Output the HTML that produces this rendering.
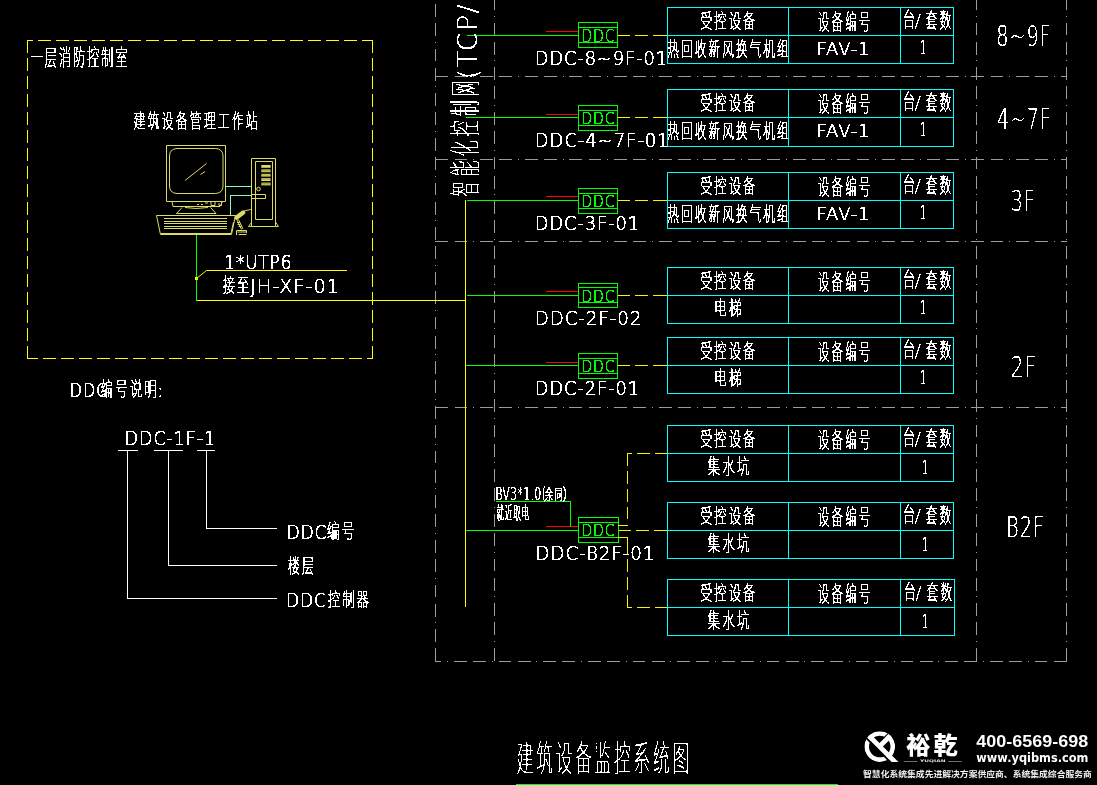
<!DOCTYPE html>
<html lang="zh-CN">
<head>
<meta charset="utf-8">
<title>建筑设备监控系统图</title>
<style>
html,body{margin:0;padding:0;background:#000;}
body{width:1097px;height:785px;overflow:hidden;}
svg{display:block;}
svg text{white-space:pre;}
.cad text{vector-effect:non-scaling-stroke;}
</style>
</head>
<body>
<svg width="1097" height="785" viewBox="0 0 1097 785" shape-rendering="crispEdges">
<rect width="1097" height="785" fill="#000"/>
<g fill="none" stroke-width="1">
<path d="M435.5 4V662" stroke="#9c9c9c" stroke-dasharray="12.762 6.381 12.762 5.881 1 5.881" stroke-dashoffset="0"/>
<path d="M494.5 0V662" stroke="#9c9c9c" stroke-dasharray="12.762 6.381 12.762 5.881 1 5.881" stroke-dashoffset="22"/>
<path d="M976.5 0V662" stroke="#9c9c9c" stroke-dasharray="12.762 6.381 12.762 5.881 1 5.881" stroke-dashoffset="22"/>
<path d="M1066.5 0V662" stroke="#9c9c9c" stroke-dasharray="12.762 6.381 12.762 5.881 1 5.881" stroke-dashoffset="22"/>
<path d="M435 76.5H1067" stroke="#9c9c9c" stroke-dasharray="12.762 6.381 12.762 5.881 1 5.881" stroke-dashoffset="44.26"/>
<path d="M435 159.5H1067" stroke="#9c9c9c" stroke-dasharray="12.762 6.381 12.762 5.881 1 5.881" stroke-dashoffset="44.26"/>
<path d="M435 241.5H1067" stroke="#9c9c9c" stroke-dasharray="12.762 6.381 12.762 5.881 1 5.881" stroke-dashoffset="44.26"/>
<path d="M435 407.5H1067" stroke="#9c9c9c" stroke-dasharray="12.762 6.381 12.762 5.881 1 5.881" stroke-dashoffset="44.26"/>
<path d="M435 661.5H1067" stroke="#9c9c9c" stroke-dasharray="12.762 6.381 12.762 5.881 1 5.881" stroke-dashoffset="25.69"/>
<path d="M27 40.5H373" stroke="#ffff00" stroke-dasharray="13 5" stroke-dashoffset="7"/>
<path d="M373 358.5H27" stroke="#ffff00" stroke-dasharray="13 5" stroke-dashoffset="7"/>
<path d="M27.5 40V359" stroke="#ffff00" stroke-dasharray="13 5"/>
<path d="M372.5 40V359" stroke="#ffff00" stroke-dasharray="13 5"/>
<path d="M465.5 200V607" stroke="#ffff00" />
<path d="M196 300.5H466" stroke="#ffff00" />
<path d="M196.5 234V301" stroke="#00ff00" />
<path d="M347 270.5H206.5L196.5 278.5" stroke="#ffff00" shape-rendering="geometricPrecision"/>
<rect x="195" y="277" width="3" height="3" fill="#ffff00"/>
<path d="M467 35.5H578" stroke="#00ff00" />
<path d="M546 31.5H578" stroke="#ff0000" />
<rect x="578.5" y="22.5" width="39" height="25" stroke="#00ff00"/>
<path d="M578 27.5H617" stroke="#00ff00" />
<path d="M578 42.5H617" stroke="#00ff00" />
<path d="M618 35.5H667" stroke="#fff000" stroke-dasharray="12 5 13 5 14 0"/>
<path d="M466 117.5H578" stroke="#00ff00" />
<path d="M546 114.5H578" stroke="#ff0000" />
<rect x="578.5" y="105.5" width="39" height="25" stroke="#00ff00"/>
<path d="M578 110.5H617" stroke="#00ff00" />
<path d="M578 125.5H617" stroke="#00ff00" />
<path d="M618 117.5H667" stroke="#fff000" stroke-dasharray="12 5 13 5 14 0"/>
<path d="M467 200.5H578" stroke="#00ff00" />
<path d="M546 196.5H578" stroke="#ff0000" />
<rect x="578.5" y="188.5" width="39" height="25" stroke="#00ff00"/>
<path d="M578 193.5H617" stroke="#00ff00" />
<path d="M578 208.5H617" stroke="#00ff00" />
<path d="M618 200.5H667" stroke="#fff000" stroke-dasharray="12 5 13 5 14 0"/>
<path d="M467 295.5H578" stroke="#00ff00" />
<path d="M546 291.5H578" stroke="#ff0000" />
<rect x="578.5" y="283.5" width="39" height="24" stroke="#00ff00"/>
<path d="M578 287.5H617" stroke="#00ff00" />
<path d="M578 302.5H617" stroke="#00ff00" />
<path d="M618 295.5H667" stroke="#fff000" stroke-dasharray="12 5 13 5 14 0"/>
<path d="M466 365.5H578" stroke="#00ff00" />
<path d="M546 362.5H578" stroke="#ff0000" />
<rect x="578.5" y="353.5" width="39" height="25" stroke="#00ff00"/>
<path d="M578 358.5H617" stroke="#00ff00" />
<path d="M578 373.5H617" stroke="#00ff00" />
<path d="M618 365.5H667" stroke="#fff000" stroke-dasharray="12 5 13 5 14 0"/>
<path d="M466 530.5H578" stroke="#00ff00" />
<path d="M546 526.5H578" stroke="#ff0000" />
<rect x="578.5" y="517.5" width="40" height="25" stroke="#00ff00"/>
<path d="M578 522.5H618" stroke="#00ff00" />
<path d="M578 537.5H618" stroke="#00ff00" />
<path d="M619 530.5H667" stroke="#fff000" stroke-dasharray="12 5 13 5 13 0"/>
<path d="M618 525.5H628" stroke="#fff000" />
<path d="M618 537.5H628" stroke="#fff000" />
<path d="M627.5 453V519" stroke="#fff000" stroke-dasharray="12.5 5.5 13 5 13 5 12 0"/>
<path d="M627 453.5H667" stroke="#fff000" stroke-dasharray="5 5 13 5 12 0"/>
<path d="M627.5 537V608" stroke="#fff000" stroke-dasharray="17 5 13 5 13 5 13 0"/>
<path d="M627 607.5H667" stroke="#fff000" stroke-dasharray="5 5 13 5 12 0"/>
<path d="M496 501.5H571" stroke="#00ff00" />
<path d="M570.5 501V527" stroke="#00ff00" />
<path d="M667.5 7.5H953.5V63.5H667.5ZM667 35.5H953.5M788.5 7.5V63.5M900.5 7.5V63.5" stroke="#00ffff"/>
<path d="M667.5 89.5H953.5V146.5H667.5ZM667 117.5H953.5M788.5 89.5V146.5M900.5 89.5V146.5" stroke="#00ffff"/>
<path d="M667.5 172.5H953.5V228.5H667.5ZM667 200.5H953.5M788.5 172.5V228.5M900.5 172.5V228.5" stroke="#00ffff"/>
<path d="M667.5 267.5H953.5V323.5H667.5ZM667 295.5H953.5M788.5 267.5V323.5M900.5 267.5V323.5" stroke="#00ffff"/>
<path d="M667.5 337.5H953.5V393.5H667.5ZM667 365.5H953.5M788.5 337.5V393.5M900.5 337.5V393.5" stroke="#00ffff"/>
<path d="M667.5 425.5H953.5V481.5H667.5ZM667 453.5H953.5M788.5 425.5V481.5M900.5 425.5V481.5" stroke="#00ffff"/>
<path d="M667.5 502.5H953.5V558.5H667.5ZM667 530.5H953.5M788.5 502.5V558.5M900.5 502.5V558.5" stroke="#00ffff"/>
<path d="M667.5 579.5H954.5V635.5H667.5ZM667 607.5H954.5M788.5 579.5V635.5M900.5 579.5V635.5" stroke="#00ffff"/>
<path d="M118 450.5H138" stroke="#ffffff" />
<path d="M154 450.5H183" stroke="#ffffff" />
<path d="M197 450.5H215" stroke="#ffffff" />
<path d="M127.5 450V598.5H277" stroke="#ffffff" />
<path d="M168.5 450V565.5H277" stroke="#ffffff" />
<path d="M206.5 450V528.5H277" stroke="#ffffff" />
<path d="M516 784.5H837.5" stroke="#00ff00" />
<path d="M166.5 145.5H225.5V201.5H166.5ZM177 148.5H215.5Q223 149 223 156V186Q223 193 215.5 193.5H177Q169.5 193 169.5 186V156Q169.5 149 177 148.5ZM185 180.5L206.5 163.5M200.5 174.5L205 171.5M172 201.5L173 206.5H220L222.5 201.5M197 204.5H199M201 204.5H203M205 203H208M211 201.5V205.5H215V201.5M219 203V205.5H221.5V202M182 207.5L176.5 213.5H216L210.5 207.5M185 207.5Q196 209.5 208 207.5M156.5 215.5H235.5L231.5 234.5H160.5ZM164 218.5H227M164 221.5H227M164 223.5H227M164 226.5H227M164 228.5H227M161 233.5H231M233.5 222L231 233.5M251.5 158.5H275.5V226.5H251.5ZM255.5 161.5H272.5V219.5H255.5ZM261.3 165.5H270.6M261.3 166.5H270.6M261.3 167.3H270.6M261.3 169.9H270.6M261.3 170.9H270.6M261.3 171.7H270.6M261.3 174.3H270.6M261.3 175.3H270.6M261.3 176.1H270.6M261.3 178.7H270.6M261.3 179.7H270.6M261.3 180.5H270.6M261.3 183.1H270.6M261.3 184.1H270.6M261.3 184.9H270.6M252 194.5H265.5V198.5H252M251.5 222.5L248.5 226.5H251.5M275.5 222L278.5 226.5H275.5M244.5 210.8L250.5 209.6L251.5 208.5M236.5 219L241.5 229.5M238.5 219.5L243 229M236.5 230.5H246.5V233M236.5 230.5V235M238.5 234.5H246.5M237.5 232H246M237 222.5H240M237.5 224.5H240.5M238.5 226.5H241.5" stroke="#dcdc64" shape-rendering="geometricPrecision"/>
<circle cx="258.5" cy="189" r="1.8" stroke="#dcdc64" shape-rendering="geometricPrecision"/>
<path d="M236.6 217.4L243.2 212.5" stroke="#dcdc64" stroke-width="4.4" stroke-linecap="round" shape-rendering="geometricPrecision"/>
<path d="M225.5 186.5H251.5M230.5 215V195.5H252" stroke="#7fffbf" />
<defs><clipPath id="lc"><circle cx="879.75" cy="746.55" r="15.35"/><rect x="886" y="752" width="16" height="9.9"/></clipPath></defs>
<g shape-rendering="geometricPrecision" stroke="none" fill="#ffffff"><g clip-path="url(#lc)" fill="none"><circle cx="879.75" cy="746.55" r="13.05" stroke="#fff" stroke-width="4.6"/><path d="M860.41 732.03L898.02 769.64" stroke="#000" stroke-width="1.9"/><path d="M895.04 726.72L877.88 743.88" stroke="#000" stroke-width="1.2"/><path d="M862.74 729.69L900.36 767.31M897.16 728.84L880.00 746.00" stroke="#fff" stroke-width="4.8"/></g><rect x="903.7" y="761" width="13.7" height="0.6" fill="#bbb"/><rect x="948" y="761" width="13.7" height="0.6" fill="#bbb"/></g>
</g>
<defs><filter id="al" x="0" y="0" width="1097" height="785" filterUnits="userSpaceOnUse" color-interpolation-filters="sRGB"><feComponentTransfer><feFuncA type="discrete" tableValues="0 0 0 1 1 1 1"/></feComponentTransfer></filter></defs>
<g class="cad" font-size="100" filter="url(#al)" stroke-width="0.55">
<text transform="matrix(0.1426 0 0 0.1678 581.36 41.53)" font-family='"DejaVu Sans", "Liberation Sans", sans-serif' font-weight="200" fill="#00ff00" stroke="#00ff00" stroke-width="0.35" letter-spacing="5">DDC</text>
<text transform="matrix(0.1426 0 0 0.1568 581.36 123.83)" font-family='"DejaVu Sans", "Liberation Sans", sans-serif' font-weight="200" fill="#00ff00" stroke="#00ff00" stroke-width="0.35" letter-spacing="5">DDC</text>
<text transform="matrix(0.1426 0 0 0.1568 581.36 206.82)" font-family='"DejaVu Sans", "Liberation Sans", sans-serif' font-weight="200" fill="#00ff00" stroke="#00ff00" stroke-width="0.35" letter-spacing="5">DDC</text>
<text transform="matrix(0.1426 0 0 0.1568 581.36 301.82)" font-family='"DejaVu Sans", "Liberation Sans", sans-serif' font-weight="200" fill="#00ff00" stroke="#00ff00" stroke-width="0.35" letter-spacing="5">DDC</text>
<text transform="matrix(0.1426 0 0 0.1568 581.36 371.82)" font-family='"DejaVu Sans", "Liberation Sans", sans-serif' font-weight="200" fill="#00ff00" stroke="#00ff00" stroke-width="0.35" letter-spacing="5">DDC</text>
<text transform="matrix(0.1426 0 0 0.1637 581.36 536.12)" font-family='"DejaVu Sans", "Liberation Sans", sans-serif' font-weight="200" fill="#00ff00" stroke="#00ff00" stroke-width="0.35" letter-spacing="5">DDC</text>
<text transform="matrix(0.1221 0 0 0.1940 699.92 28.27)" font-family='"Noto Sans CJK SC", "Liberation Sans", sans-serif' font-weight="100" fill="#ffffff" stroke="#ffffff" letter-spacing="18">受控设备</text>
<text transform="matrix(0.1164 0 0 0.2092 817.69 28.55)" font-family='"Noto Sans CJK SC", "Liberation Sans", sans-serif' font-weight="100" fill="#ffffff" stroke="#ffffff" letter-spacing="18">设备编号</text>
<text transform="matrix(0.1231 0 0 0.2017 902.82 27.01)" font-family='"Noto Sans CJK SC", "Liberation Sans", sans-serif' font-weight="100" fill="#ffffff" stroke="#ffffff" >台</text>
<text transform="matrix(0.1276 0 0 0.1495 915.35 25.93)" font-family='"Noto Sans CJK SC", "Liberation Sans", sans-serif' font-weight="100" fill="#ffffff" stroke="#ffffff" >/</text>
<text transform="matrix(0.1194 0 0 0.2049 925.48 28.19)" font-family='"Noto Sans CJK SC", "Liberation Sans", sans-serif' font-weight="100" fill="#ffffff" stroke="#ffffff" letter-spacing="18">套数</text>
<text transform="matrix(0.1165 0 0 0.1973 667.19 55.65)" font-family='"Noto Sans CJK SC", "Liberation Sans", sans-serif' font-weight="100" fill="#ffffff" stroke="#ffffff" letter-spacing="18">热回收新风换气机组</text>
<text transform="matrix(0.1816 0 0 0.1829 816.40 55.43)" font-family='"DejaVu Sans", "Liberation Sans", sans-serif' font-weight="200" fill="#ffffff" stroke="#ffffff" stroke-width="0.35" letter-spacing="5">FAV-1</text>
<text transform="matrix(0.0963 0 0 0.1925 920.12 54.12)" font-family='"DejaVu Sans", "Liberation Sans", sans-serif' font-weight="200" fill="#ffffff" stroke="#ffffff" stroke-width="0.35" >1</text>
<text transform="matrix(0.1221 0 0 0.1940 699.92 110.27)" font-family='"Noto Sans CJK SC", "Liberation Sans", sans-serif' font-weight="100" fill="#ffffff" stroke="#ffffff" letter-spacing="18">受控设备</text>
<text transform="matrix(0.1164 0 0 0.2092 817.69 110.55)" font-family='"Noto Sans CJK SC", "Liberation Sans", sans-serif' font-weight="100" fill="#ffffff" stroke="#ffffff" letter-spacing="18">设备编号</text>
<text transform="matrix(0.1231 0 0 0.2017 902.82 109.01)" font-family='"Noto Sans CJK SC", "Liberation Sans", sans-serif' font-weight="100" fill="#ffffff" stroke="#ffffff" >台</text>
<text transform="matrix(0.1276 0 0 0.1495 915.35 107.93)" font-family='"Noto Sans CJK SC", "Liberation Sans", sans-serif' font-weight="100" fill="#ffffff" stroke="#ffffff" >/</text>
<text transform="matrix(0.1194 0 0 0.2049 925.48 110.19)" font-family='"Noto Sans CJK SC", "Liberation Sans", sans-serif' font-weight="100" fill="#ffffff" stroke="#ffffff" letter-spacing="18">套数</text>
<text transform="matrix(0.1165 0 0 0.1973 667.19 137.65)" font-family='"Noto Sans CJK SC", "Liberation Sans", sans-serif' font-weight="100" fill="#ffffff" stroke="#ffffff" letter-spacing="18">热回收新风换气机组</text>
<text transform="matrix(0.1816 0 0 0.1829 816.40 137.42)" font-family='"DejaVu Sans", "Liberation Sans", sans-serif' font-weight="200" fill="#ffffff" stroke="#ffffff" stroke-width="0.35" letter-spacing="5">FAV-1</text>
<text transform="matrix(0.0963 0 0 0.1925 920.12 136.12)" font-family='"DejaVu Sans", "Liberation Sans", sans-serif' font-weight="200" fill="#ffffff" stroke="#ffffff" stroke-width="0.35" >1</text>
<text transform="matrix(0.1221 0 0 0.1940 699.92 193.27)" font-family='"Noto Sans CJK SC", "Liberation Sans", sans-serif' font-weight="100" fill="#ffffff" stroke="#ffffff" letter-spacing="18">受控设备</text>
<text transform="matrix(0.1164 0 0 0.2092 817.69 193.55)" font-family='"Noto Sans CJK SC", "Liberation Sans", sans-serif' font-weight="100" fill="#ffffff" stroke="#ffffff" letter-spacing="18">设备编号</text>
<text transform="matrix(0.1231 0 0 0.2017 902.82 192.01)" font-family='"Noto Sans CJK SC", "Liberation Sans", sans-serif' font-weight="100" fill="#ffffff" stroke="#ffffff" >台</text>
<text transform="matrix(0.1276 0 0 0.1495 915.35 190.93)" font-family='"Noto Sans CJK SC", "Liberation Sans", sans-serif' font-weight="100" fill="#ffffff" stroke="#ffffff" >/</text>
<text transform="matrix(0.1194 0 0 0.2049 925.48 193.19)" font-family='"Noto Sans CJK SC", "Liberation Sans", sans-serif' font-weight="100" fill="#ffffff" stroke="#ffffff" letter-spacing="18">套数</text>
<text transform="matrix(0.1165 0 0 0.1973 667.19 220.65)" font-family='"Noto Sans CJK SC", "Liberation Sans", sans-serif' font-weight="100" fill="#ffffff" stroke="#ffffff" letter-spacing="18">热回收新风换气机组</text>
<text transform="matrix(0.1816 0 0 0.1829 816.40 220.42)" font-family='"DejaVu Sans", "Liberation Sans", sans-serif' font-weight="200" fill="#ffffff" stroke="#ffffff" stroke-width="0.35" letter-spacing="5">FAV-1</text>
<text transform="matrix(0.0963 0 0 0.1925 920.12 219.12)" font-family='"DejaVu Sans", "Liberation Sans", sans-serif' font-weight="200" fill="#ffffff" stroke="#ffffff" stroke-width="0.35" >1</text>
<text transform="matrix(0.1221 0 0 0.1940 699.92 288.27)" font-family='"Noto Sans CJK SC", "Liberation Sans", sans-serif' font-weight="100" fill="#ffffff" stroke="#ffffff" letter-spacing="18">受控设备</text>
<text transform="matrix(0.1164 0 0 0.2092 817.69 288.55)" font-family='"Noto Sans CJK SC", "Liberation Sans", sans-serif' font-weight="100" fill="#ffffff" stroke="#ffffff" letter-spacing="18">设备编号</text>
<text transform="matrix(0.1231 0 0 0.2017 902.82 287.01)" font-family='"Noto Sans CJK SC", "Liberation Sans", sans-serif' font-weight="100" fill="#ffffff" stroke="#ffffff" >台</text>
<text transform="matrix(0.1276 0 0 0.1495 915.35 285.93)" font-family='"Noto Sans CJK SC", "Liberation Sans", sans-serif' font-weight="100" fill="#ffffff" stroke="#ffffff" >/</text>
<text transform="matrix(0.1194 0 0 0.2049 925.48 288.19)" font-family='"Noto Sans CJK SC", "Liberation Sans", sans-serif' font-weight="100" fill="#ffffff" stroke="#ffffff" letter-spacing="18">套数</text>
<text transform="matrix(0.1265 0 0 0.1984 714.10 315.44)" font-family='"Noto Sans CJK SC", "Liberation Sans", sans-serif' font-weight="100" fill="#ffffff" stroke="#ffffff" letter-spacing="18">电梯</text>
<text transform="matrix(0.0963 0 0 0.1925 920.12 314.12)" font-family='"DejaVu Sans", "Liberation Sans", sans-serif' font-weight="200" fill="#ffffff" stroke="#ffffff" stroke-width="0.35" >1</text>
<text transform="matrix(0.1221 0 0 0.1940 699.92 358.27)" font-family='"Noto Sans CJK SC", "Liberation Sans", sans-serif' font-weight="100" fill="#ffffff" stroke="#ffffff" letter-spacing="18">受控设备</text>
<text transform="matrix(0.1164 0 0 0.2092 817.69 358.55)" font-family='"Noto Sans CJK SC", "Liberation Sans", sans-serif' font-weight="100" fill="#ffffff" stroke="#ffffff" letter-spacing="18">设备编号</text>
<text transform="matrix(0.1231 0 0 0.2017 902.82 357.01)" font-family='"Noto Sans CJK SC", "Liberation Sans", sans-serif' font-weight="100" fill="#ffffff" stroke="#ffffff" >台</text>
<text transform="matrix(0.1276 0 0 0.1495 915.35 355.93)" font-family='"Noto Sans CJK SC", "Liberation Sans", sans-serif' font-weight="100" fill="#ffffff" stroke="#ffffff" >/</text>
<text transform="matrix(0.1194 0 0 0.2049 925.48 358.19)" font-family='"Noto Sans CJK SC", "Liberation Sans", sans-serif' font-weight="100" fill="#ffffff" stroke="#ffffff" letter-spacing="18">套数</text>
<text transform="matrix(0.1265 0 0 0.1984 714.10 385.44)" font-family='"Noto Sans CJK SC", "Liberation Sans", sans-serif' font-weight="100" fill="#ffffff" stroke="#ffffff" letter-spacing="18">电梯</text>
<text transform="matrix(0.0963 0 0 0.1925 920.12 384.12)" font-family='"DejaVu Sans", "Liberation Sans", sans-serif' font-weight="200" fill="#ffffff" stroke="#ffffff" stroke-width="0.35" >1</text>
<text transform="matrix(0.1221 0 0 0.1940 699.92 446.27)" font-family='"Noto Sans CJK SC", "Liberation Sans", sans-serif' font-weight="100" fill="#ffffff" stroke="#ffffff" letter-spacing="18">受控设备</text>
<text transform="matrix(0.1164 0 0 0.2092 817.69 446.55)" font-family='"Noto Sans CJK SC", "Liberation Sans", sans-serif' font-weight="100" fill="#ffffff" stroke="#ffffff" letter-spacing="18">设备编号</text>
<text transform="matrix(0.1231 0 0 0.2017 902.82 445.01)" font-family='"Noto Sans CJK SC", "Liberation Sans", sans-serif' font-weight="100" fill="#ffffff" stroke="#ffffff" >台</text>
<text transform="matrix(0.1276 0 0 0.1495 915.35 443.93)" font-family='"Noto Sans CJK SC", "Liberation Sans", sans-serif' font-weight="100" fill="#ffffff" stroke="#ffffff" >/</text>
<text transform="matrix(0.1194 0 0 0.2049 925.48 446.19)" font-family='"Noto Sans CJK SC", "Liberation Sans", sans-serif' font-weight="100" fill="#ffffff" stroke="#ffffff" letter-spacing="18">套数</text>
<text transform="matrix(0.1243 0 0 0.2038 707.58 473.89)" font-family='"Noto Sans CJK SC", "Liberation Sans", sans-serif' font-weight="100" fill="#ffffff" stroke="#ffffff" letter-spacing="18">集水坑</text>
<text transform="matrix(0.0890 0 0 0.1870 922.30 473.82)" font-family='"DejaVu Sans", "Liberation Sans", sans-serif' font-weight="200" fill="#ffffff" stroke="#ffffff" stroke-width="0.35" >1</text>
<text transform="matrix(0.1221 0 0 0.1940 699.92 523.27)" font-family='"Noto Sans CJK SC", "Liberation Sans", sans-serif' font-weight="100" fill="#ffffff" stroke="#ffffff" letter-spacing="18">受控设备</text>
<text transform="matrix(0.1164 0 0 0.2092 817.69 523.55)" font-family='"Noto Sans CJK SC", "Liberation Sans", sans-serif' font-weight="100" fill="#ffffff" stroke="#ffffff" letter-spacing="18">设备编号</text>
<text transform="matrix(0.1231 0 0 0.2017 902.82 522.01)" font-family='"Noto Sans CJK SC", "Liberation Sans", sans-serif' font-weight="100" fill="#ffffff" stroke="#ffffff" >台</text>
<text transform="matrix(0.1276 0 0 0.1495 915.35 520.93)" font-family='"Noto Sans CJK SC", "Liberation Sans", sans-serif' font-weight="100" fill="#ffffff" stroke="#ffffff" >/</text>
<text transform="matrix(0.1194 0 0 0.2049 925.48 523.19)" font-family='"Noto Sans CJK SC", "Liberation Sans", sans-serif' font-weight="100" fill="#ffffff" stroke="#ffffff" letter-spacing="18">套数</text>
<text transform="matrix(0.1243 0 0 0.2038 707.58 550.89)" font-family='"Noto Sans CJK SC", "Liberation Sans", sans-serif' font-weight="100" fill="#ffffff" stroke="#ffffff" letter-spacing="18">集水坑</text>
<text transform="matrix(0.0890 0 0 0.1870 922.30 550.83)" font-family='"DejaVu Sans", "Liberation Sans", sans-serif' font-weight="200" fill="#ffffff" stroke="#ffffff" stroke-width="0.35" >1</text>
<text transform="matrix(0.1221 0 0 0.1940 699.92 600.27)" font-family='"Noto Sans CJK SC", "Liberation Sans", sans-serif' font-weight="100" fill="#ffffff" stroke="#ffffff" letter-spacing="18">受控设备</text>
<text transform="matrix(0.1164 0 0 0.2092 817.69 600.55)" font-family='"Noto Sans CJK SC", "Liberation Sans", sans-serif' font-weight="100" fill="#ffffff" stroke="#ffffff" letter-spacing="18">设备编号</text>
<text transform="matrix(0.1231 0 0 0.2017 903.52 599.01)" font-family='"Noto Sans CJK SC", "Liberation Sans", sans-serif' font-weight="100" fill="#ffffff" stroke="#ffffff" >台</text>
<text transform="matrix(0.1276 0 0 0.1495 916.05 597.93)" font-family='"Noto Sans CJK SC", "Liberation Sans", sans-serif' font-weight="100" fill="#ffffff" stroke="#ffffff" >/</text>
<text transform="matrix(0.1194 0 0 0.2049 926.18 600.19)" font-family='"Noto Sans CJK SC", "Liberation Sans", sans-serif' font-weight="100" fill="#ffffff" stroke="#ffffff" letter-spacing="18">套数</text>
<text transform="matrix(0.1243 0 0 0.2038 707.58 627.89)" font-family='"Noto Sans CJK SC", "Liberation Sans", sans-serif' font-weight="100" fill="#ffffff" stroke="#ffffff" letter-spacing="18">集水坑</text>
<text transform="matrix(0.0890 0 0 0.1870 922.30 627.83)" font-family='"DejaVu Sans", "Liberation Sans", sans-serif' font-weight="200" fill="#ffffff" stroke="#ffffff" stroke-width="0.35" >1</text>
<text transform="matrix(0.1786 0 0 0.1925 534.83 64.53)" font-family='"DejaVu Sans", "Liberation Sans", sans-serif' font-weight="200" fill="#ffffff" stroke="#ffffff" stroke-width="0.35" letter-spacing="5">DDC-8~9F-01</text>
<text transform="matrix(0.1806 0 0 0.1966 534.81 147.32)" font-family='"DejaVu Sans", "Liberation Sans", sans-serif' font-weight="200" fill="#ffffff" stroke="#ffffff" stroke-width="0.35" letter-spacing="5">DDC-4~7F-01</text>
<text transform="matrix(0.1785 0 0 0.1938 534.83 229.62)" font-family='"DejaVu Sans", "Liberation Sans", sans-serif' font-weight="200" fill="#ffffff" stroke="#ffffff" stroke-width="0.35" letter-spacing="5">DDC-3F-01</text>
<text transform="matrix(0.1823 0 0 0.1938 534.79 324.82)" font-family='"DejaVu Sans", "Liberation Sans", sans-serif' font-weight="200" fill="#ffffff" stroke="#ffffff" stroke-width="0.35" letter-spacing="5">DDC-2F-02</text>
<text transform="matrix(0.1785 0 0 0.1966 534.83 395.02)" font-family='"DejaVu Sans", "Liberation Sans", sans-serif' font-weight="200" fill="#ffffff" stroke="#ffffff" stroke-width="0.35" letter-spacing="5">DDC-2F-01</text>
<text transform="matrix(0.1826 0 0 0.1966 535.48 559.83)" font-family='"DejaVu Sans", "Liberation Sans", sans-serif' font-weight="200" fill="#ffffff" stroke="#ffffff" stroke-width="0.35" letter-spacing="5">DDC-B2F-01</text>
<text transform="matrix(0.1915 0 0 0.2870 996.30 45.98)" font-family='"DejaVu Sans", "Liberation Sans", sans-serif' font-weight="200" fill="#ffffff" stroke="#ffffff" stroke-width="0.05" letter-spacing="5">8~9F</text>
<text transform="matrix(0.1887 0 0 0.2884 997.08 128.57)" font-family='"DejaVu Sans", "Liberation Sans", sans-serif' font-weight="200" fill="#ffffff" stroke="#ffffff" stroke-width="0.05" letter-spacing="5">4~7F</text>
<text transform="matrix(0.1887 0 0 0.2870 1010.70 210.97)" font-family='"DejaVu Sans", "Liberation Sans", sans-serif' font-weight="200" fill="#ffffff" stroke="#ffffff" stroke-width="0.05" letter-spacing="5">3F</text>
<text transform="matrix(0.2023 0 0 0.2911 1010.61 377.28)" font-family='"DejaVu Sans", "Liberation Sans", sans-serif' font-weight="200" fill="#ffffff" stroke="#ffffff" stroke-width="0.05" letter-spacing="5">2F</text>
<text transform="matrix(0.1940 0 0 0.2801 1006.00 537.48)" font-family='"DejaVu Sans", "Liberation Sans", sans-serif' font-weight="200" fill="#ffffff" stroke="#ffffff" stroke-width="0.05" letter-spacing="5">B2F</text>
<text transform="matrix(0.1198 0 0 0.2114 30.68 65.03)" font-family='"Noto Sans CJK SC", "Liberation Sans", sans-serif' font-weight="100" fill="#ffffff" stroke="#ffffff" letter-spacing="18">一层消防控制室</text>
<text transform="matrix(0.1191 0 0 0.1951 133.48 127.66)" font-family='"Noto Sans CJK SC", "Liberation Sans", sans-serif' font-weight="100" fill="#ffffff" stroke="#ffffff" letter-spacing="18">建筑设备管理工作站</text>
<text transform="matrix(0.1691 0 0 0.1925 224.31 268.72)" font-family='"DejaVu Sans", "Liberation Sans", sans-serif' font-weight="200" fill="#ffffff" stroke="#ffffff" stroke-width="0.35" letter-spacing="5">1*UTP6</text>
<text transform="matrix(0.1219 0 0 0.1896 222.69 292.21)" font-family='"Noto Sans CJK SC", "Liberation Sans", sans-serif' font-weight="100" fill="#ffffff" stroke="#ffffff" letter-spacing="18">接至</text>
<text transform="matrix(0.1937 0 0 0.1870 249.98 293.12)" font-family='"DejaVu Sans", "Liberation Sans", sans-serif' font-weight="200" fill="#ffffff" stroke="#ffffff" stroke-width="0.35" letter-spacing="5">JH-XF-01</text>
<text transform="matrix(0.1592 0 0 0.1911 69.86 396.52)" font-family='"DejaVu Sans", "Liberation Sans", sans-serif' font-weight="200" fill="#ffffff" stroke="#ffffff" stroke-width="0.35" letter-spacing="5">DDC</text>
<text transform="matrix(0.1235 0 0 0.1962 100.66 396.06)" font-family='"Noto Sans CJK SC", "Liberation Sans", sans-serif' font-weight="100" fill="#ffffff" stroke="#ffffff" letter-spacing="18">编号说明</text>
<text transform="matrix(0.3250 0 0 0.1911 154.83 396.52)" font-family='"DejaVu Sans", "Liberation Sans", sans-serif' font-weight="200" fill="#ffffff" stroke="#ffffff" stroke-width="0.35" >:</text>
<text transform="matrix(0.1757 0 0 0.1925 124.67 445.43)" font-family='"DejaVu Sans", "Liberation Sans", sans-serif' font-weight="200" fill="#ffffff" stroke="#ffffff" stroke-width="0.35" letter-spacing="5">DDC-1F-1</text>
<text transform="matrix(0.1721 0 0 0.1911 286.41 539.12)" font-family='"DejaVu Sans", "Liberation Sans", sans-serif' font-weight="200" fill="#ffffff" stroke="#ffffff" stroke-width="0.35" letter-spacing="5">DDC</text>
<text transform="matrix(0.1284 0 0 0.1897 326.63 538.21)" font-family='"Noto Sans CJK SC", "Liberation Sans", sans-serif' font-weight="100" fill="#ffffff" stroke="#ffffff" letter-spacing="18">编号</text>
<text transform="matrix(0.1185 0 0 0.1973 288.10 572.65)" font-family='"Noto Sans CJK SC", "Liberation Sans", sans-serif' font-weight="100" fill="#ffffff" stroke="#ffffff" letter-spacing="18">楼层</text>
<text transform="matrix(0.1721 0 0 0.1911 285.91 607.43)" font-family='"DejaVu Sans", "Liberation Sans", sans-serif' font-weight="200" fill="#ffffff" stroke="#ffffff" stroke-width="0.35" letter-spacing="5">DDC</text>
<text transform="matrix(0.1222 0 0 0.1842 327.79 606.25)" font-family='"Noto Sans CJK SC", "Liberation Sans", sans-serif' font-weight="100" fill="#ffffff" stroke="#ffffff" letter-spacing="18">控制器</text>
<text transform="matrix(0.1056 0 0 0.1774 495.51 499.72)" font-family='"DejaVu Sans", "Liberation Sans", sans-serif' font-weight="200" fill="#ffffff" stroke="#ffffff" stroke-width="0.35" letter-spacing="5">BV3*1.0(</text>
<text transform="matrix(0.0806 0 0 0.1386 544.95 498.52)" font-family='"Noto Sans CJK SC", "Liberation Sans", sans-serif' font-weight="100" fill="#ffffff" stroke="#ffffff" letter-spacing="18">余同</text>
<text transform="matrix(0.1861 0 0 0.1774 560.63 499.72)" font-family='"DejaVu Sans", "Liberation Sans", sans-serif' font-weight="200" fill="#ffffff" stroke="#ffffff" stroke-width="0.35" >)</text>
<text transform="matrix(0.0719 0 0 0.1753 496.44 519.20)" font-family='"Noto Sans CJK SC", "Liberation Sans", sans-serif' font-weight="100" fill="#ffffff" stroke="#ffffff" letter-spacing="18">就近取电</text>
<g transform="translate(479 195.7) rotate(-90)"><text transform="matrix(0.1543 0 0 0.3016 -0.60 -2.59)" font-family='"Noto Sans CJK SC", "Liberation Sans", sans-serif' font-weight="100" fill="#ffffff" stroke="#ffffff" stroke-width="0.35" letter-spacing="30">智能化控制网</text></g>
<g transform="translate(479 195.7) rotate(-90)"><text transform="matrix(0.2694 0 0 0.2712 116.49 -2.15)" font-family='"DejaVu Sans", "Liberation Sans", sans-serif' font-weight="200" fill="#ffffff" stroke="#ffffff" stroke-width="0.1" letter-spacing="5">(TCP/</text></g>
<text transform="matrix(0.1650 0 0 0.3543 516.77 771.27)" font-family='"Noto Sans CJK SC", "Liberation Sans", sans-serif' font-weight="100" fill="#ffffff" stroke="#ffffff" stroke-width="0.2" letter-spacing="18">建筑设备监控系统图</text>
</g>
<g font-size="100" opacity="0.999">
<text transform="matrix(0.2429 0 0 0.2333 906.36 754.17)" font-family='"Liberation Sans", "Noto Sans CJK SC", "DejaVu Sans", sans-serif' font-weight="900" fill="#ffffff" letter-spacing="12">裕乾</text>
<text transform="matrix(0.0587 0 0 0.0356 920.06 762.37)" font-family='"DejaVu Sans", "Liberation Sans", "Noto Sans CJK SC", sans-serif' font-weight="700" fill="#e0e0e0" >YUQIAN</text>
<text transform="matrix(0.1798 0 0 0.1662 976.32 747.13)" font-family='"Liberation Sans", "Noto Sans CJK SC", "DejaVu Sans", sans-serif' font-weight="700" fill="#ffffff" >400-6569-698</text>
<text transform="matrix(0.1139 0 0 0.1194 976.34 761.97)" font-family='"DejaVu Sans", "Liberation Sans", "Noto Sans CJK SC", sans-serif' font-weight="700" fill="#ffffff" >www.yqibms.com</text>
<text transform="matrix(0.0882 0 0 0.0837 863.04 777.48)" font-family='"Liberation Sans", "Noto Sans CJK SC", "DejaVu Sans", sans-serif' font-weight="700" fill="#f0f0f0" >智慧化系统集成先进解决方案供应商、系统集成综合服务商</text>
</g>
</svg>
</body>
</html>
